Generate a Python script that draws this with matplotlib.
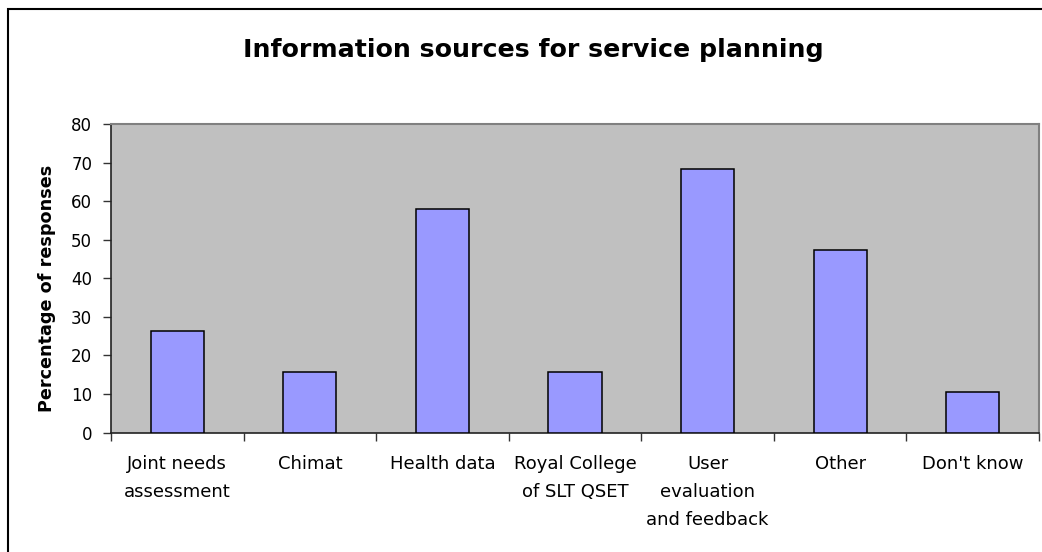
import matplotlib
matplotlib.use("Agg")
import matplotlib.pyplot as plt
from matplotlib.patches import Rectangle

plt.rcParams['font.family'] = ['DejaVu Sans']

categories = ["Joint needs\nassessment", "Chimat", "Health data",
              "Royal College\nof SLT QSET", "User\nevaluation\nand feedback",
              "Other", "Don't know"]
percentages = [26.3, 15.8, 57.9, 15.8, 68.4, 47.4, 10.5]
y_ticks = [0, 10, 20, 30, 40, 50, 60, 70, 80]

W, H = 1042, 552
fig = plt.figure(figsize=(W / 100, H / 100), dpi=100)
fig.patch.set_facecolor("white")

# chart frame (runs past the right and bottom edges)
fig.patches.append(Rectangle((8 / W, -0.1), 1.2, 1 - 9 / H + 0.1,
                             transform=fig.transFigure, fill=False,
                             edgecolor="black", linewidth=1.5))

left, right = 111 / W, 1039 / W
bottom, top = 1 - 432.5 / H, 1 - 124 / H
ax = fig.add_axes([left, bottom, right - left, top - bottom])
ax.set_facecolor("#C0C0C0")

x = list(range(len(categories)))
ax.bar(x, percentages, width=0.4, color="#9999FF", edgecolor="black",
       linewidth=1.1, zorder=3)

ax.set_xlim(-0.5, len(categories) - 0.5)
ax.set_ylim(0, 80)
ax.set_yticks(y_ticks)
ax.set_yticklabels([str(v) for v in y_ticks], fontsize=12)

# category ticks sit on the boundaries between bars
ax.set_xticks([i - 0.5 for i in range(len(categories) + 1)])
ax.set_xticklabels([])
ax.set_xticks(x, minor=True)
ax.set_xticklabels(categories, minor=True, fontsize=13, linespacing=1.7)
ax.tick_params(axis="x", which="minor", length=0, pad=16.5)
ax.tick_params(axis="x", which="major", length=6, width=1, color="#333333",
               direction="out")
ax.tick_params(axis="y", length=6, width=1, color="#333333", direction="out",
               pad=7.5)

for side in ("top", "right"):
    ax.spines[side].set_color("#808080")
    ax.spines[side].set_linewidth(1.5)
for side in ("left", "bottom"):
    ax.spines[side].set_color("#222222")
    ax.spines[side].set_linewidth(1.2)

ax.set_ylabel("Percentage of responses", fontsize=12.7, fontweight="bold")
ax.yaxis.set_label_coords(-55 / (right - left) / W, 0.468)

fig.text(533 / W, 1 - 50 / H, "Information sources for service planning",
         ha="center", va="center", fontsize=18.2, fontweight="bold")

fig.savefig("out.png", dpi=100)
